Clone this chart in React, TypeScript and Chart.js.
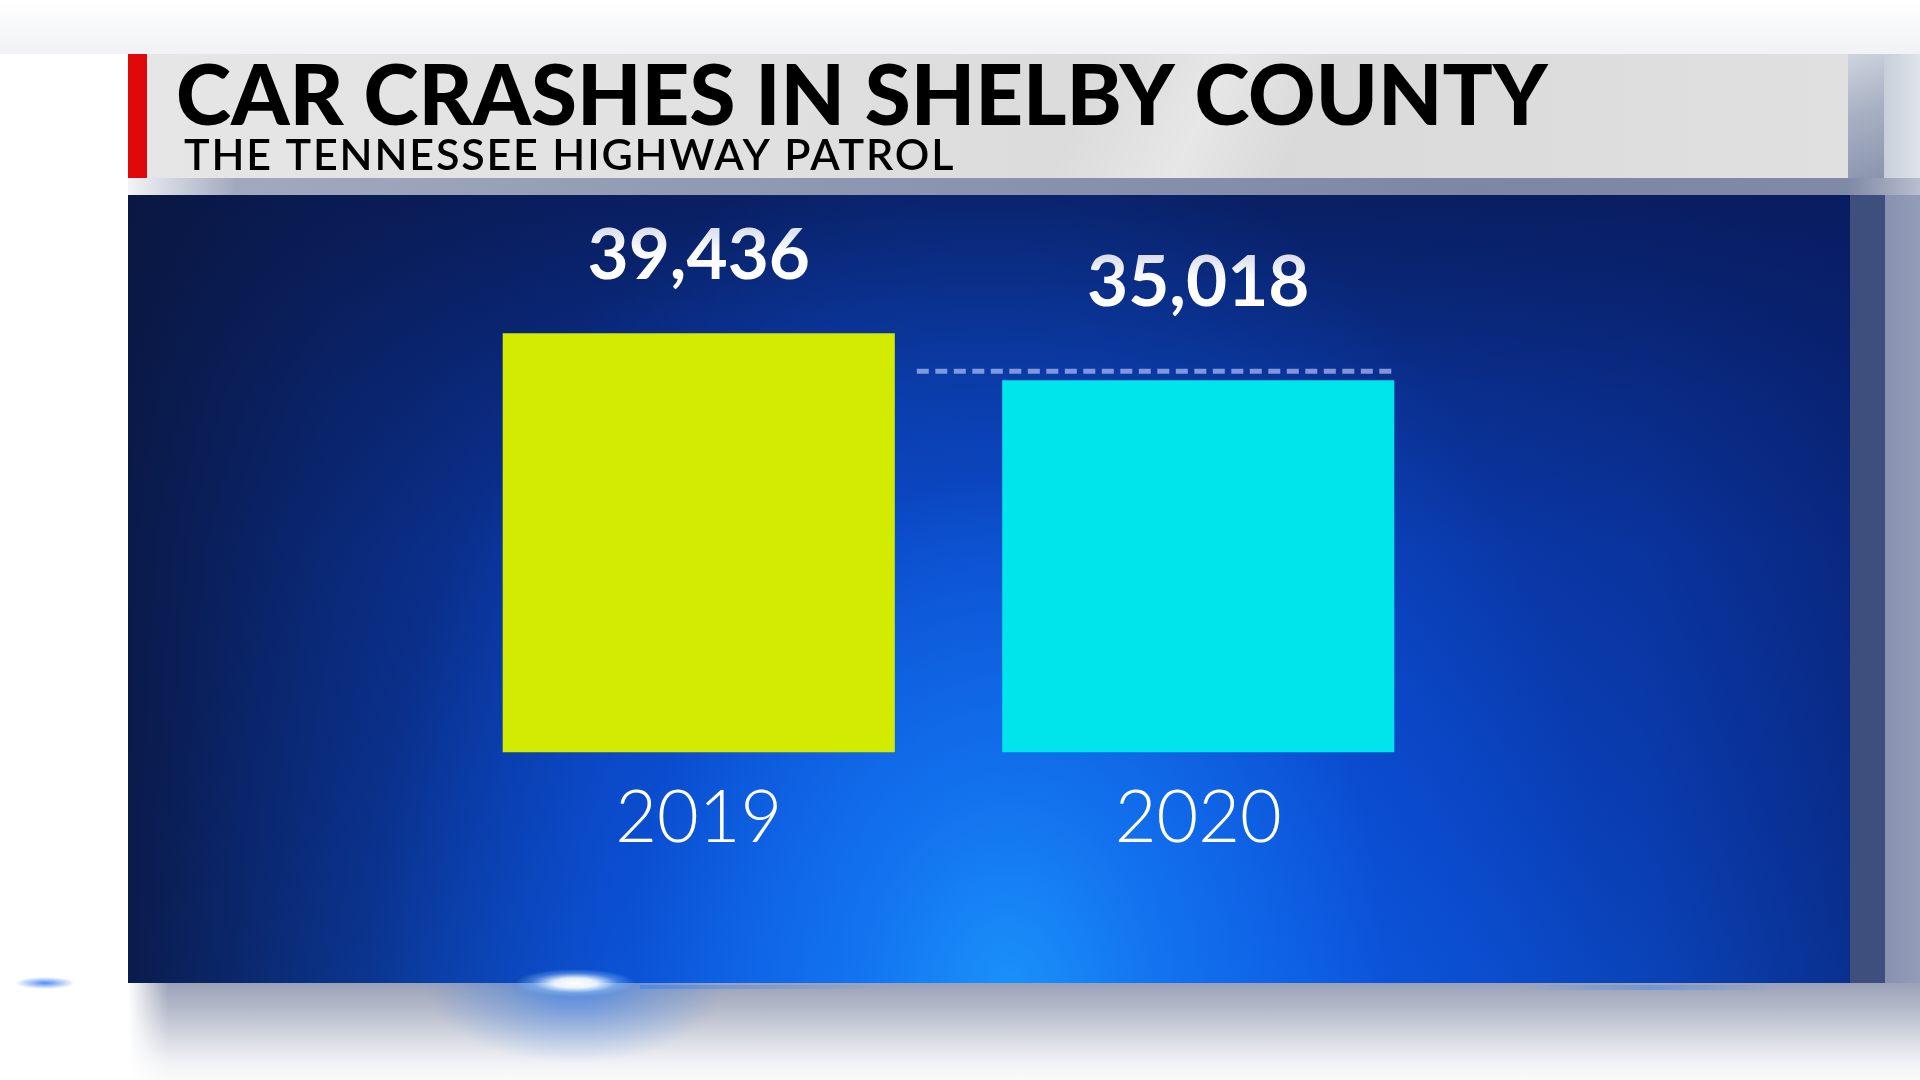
import React, { useEffect, useRef } from "react";
import { Chart, registerables } from "chart.js";

Chart.register(...registerables);

// ---- data ----
const categories = ["2019", "2020"];
const crashes = [39436, 35018];
const referenceLineValue = 35860;
const yAxisMax = 50000;
const titleText = "CAR CRASHES IN SHELBY COUNTY";
const subtitleText = "THE TENNESSEE HIGHWAY PATROL";

// ---- styles ----
const barColors = ["#d3eb00", "#00e4eb"];
const labelGaps = [54, 74];
const FONT = "Lato";

const overlayPlugin = {
  id: "overlay",
  afterDatasetsDraw(chart: any) {
    const { ctx } = chart;
    const meta = chart.getDatasetMeta(0);
    const yScale = chart.scales.y;

    // dashed reference line over the 2020 bar
    const b1 = meta.data[1];
    const b0 = meta.data[0];
    const y = yScale.getPixelForValue(referenceLineValue);
    const xStart = b0.x + b0.width / 2 + 22;
    const xEnd = b1.x + b1.width / 2 + 2;
    ctx.save();
    ctx.strokeStyle = "rgba(160,178,238,0.78)";
    ctx.lineWidth = 5;
    ctx.setLineDash([12, 6.5]);
    ctx.beginPath();
    ctx.moveTo(xStart, y);
    ctx.lineTo(xEnd, y);
    ctx.stroke();
    ctx.restore();

    // value labels
    ctx.save();
    ctx.font = `700 71px ${FONT}`;
    ctx.textAlign = "center";
    ctx.textBaseline = "alphabetic";
    meta.data.forEach((bar: any, i: number) => {
      const by = bar.y - labelGaps[i];
      const g = ctx.createLinearGradient(0, by - 52, 0, by);
      g.addColorStop(0, "#d9dde9");
      g.addColorStop(0.5, "#ffffff");
      g.addColorStop(1, "#ffffff");
      ctx.fillStyle = g;
      ctx.fillText(crashes[i].toLocaleString("en-US"), bar.x, by);
    });
    ctx.restore();

    // header text
    ctx.save();
    ctx.fillStyle = "#000000";
    ctx.textAlign = "left";
    ctx.textBaseline = "alphabetic";
    ctx.font = `900 83.4px ${FONT}`;
    ctx.fillText(titleText, 176, 125);
    ctx.font = `600 43px ${FONT}`;
    (ctx as any).letterSpacing = "1.85px";
    ctx.fillText(subtitleText, 184, 170);
    ctx.restore();
  },
};

function Background() {
  const abs = (s: React.CSSProperties): React.CSSProperties => ({ position: "absolute", ...s });
  return (
    <>
      {/* top haze */}
      <div style={abs({ left: 0, top: 0, width: 1920, height: 54, background: "linear-gradient(to bottom, #ffffff, #f1f2f5)" })} />
      {/* banner */}
      <div
        style={abs({
          left: 128,
          top: 54,
          width: 1720,
          height: 124,
          background:
            "linear-gradient(115deg, rgba(255,255,255,0) 55%, rgba(255,255,255,0.35) 62%, rgba(255,255,255,0) 68%), linear-gradient(to right, #e6e6e6 0%, #e2e2e2 30%, #d9d9d9 65%, #e0e0e0 100%)",
        })}
      />
      <div style={abs({ left: 128, top: 54, width: 19, height: 124, background: "#e1080c" })} />
      {/* right of banner */}
      <div style={abs({ left: 1848, top: 54, width: 36, height: 124, background: "linear-gradient(160deg, #cfd5de 0%, #a9b2c4 45%, #8a94ae 100%)" })} />
      <div style={abs({ left: 1884, top: 54, width: 36, height: 124, background: "linear-gradient(to right, #c8cfd9, #dfe3ea)" })} />
      {/* band under banner */}
      <div style={abs({ left: 128, top: 178, width: 1792, height: 17, background: "linear-gradient(to right, #f2f3f6 0%, #a2a9be 6%, #939bb4 30%, #7d87a4 75%, #8089a6 96%, #b8bfce 100%)" })} />
      {/* right strips */}
      <div style={abs({ left: 1850, top: 195, width: 35, height: 788, background: "#3e4e7d" })} />
      <div style={abs({ left: 1885, top: 195, width: 35, height: 788, background: "linear-gradient(to right, #8791b0, #939cb8)" })} />
      {/* panel */}
      <div
        style={abs({
          left: 128,
          top: 195,
          width: 1722,
          height: 788,
          background: [
            "radial-gradient(ellipse 380px 520px at 880px 800px, rgba(28,150,252,0.9) 0%, rgba(22,130,248,0.6) 40%, rgba(16,110,240,0) 100%)",
            "radial-gradient(ellipse 620px 900px at 860px 820px, rgba(14,100,235,0.85) 0%, rgba(12,90,228,0.5) 50%, rgba(12,80,220,0) 100%)",
            "linear-gradient(to right, rgba(10,22,62,0.9) 0%, rgba(10,24,70,0.55) 12%, rgba(10,24,70,0.1) 28%, rgba(10,24,70,0) 40%, rgba(10,24,70,0) 70%, rgba(8,26,95,0.25) 88%, rgba(8,26,95,0.6) 100%)",
            "linear-gradient(to bottom, rgba(8,20,70,0.55) 0%, rgba(8,20,70,0.15) 25%, rgba(8,20,70,0) 45%)",
            "linear-gradient(to bottom, #0a2c86 0%, #0a3cb2 45%, #0a48cc 80%, #0b52d8 100%)",
          ].join(","),
        })}
      />
      {/* shadow below panel */}
      <div
        style={abs({
          left: 128,
          top: 983,
          width: 1792,
          height: 97,
          background: "linear-gradient(to bottom, #9ba2b8 0%, #b8bdcc 30%, #dadde5 60%, #f3f4f7 85%, #fafafb 100%)",
          WebkitMaskImage: "linear-gradient(to right, transparent 0, black 40px, black 100%)",
          maskImage: "linear-gradient(to right, transparent 0, black 40px, black 100%)",
        })}
      />
      {/* blue glow below flare */}
      <div style={abs({ left: 380, top: 983, width: 400, height: 97, background: "radial-gradient(ellipse 150px 80px at 195px 0px, rgba(40,120,240,0.7) 0%, rgba(40,120,240,0.3) 50%, rgba(40,120,240,0) 100%)" })} />
      <div style={abs({ left: 640, top: 985, width: 260, height: 4, background: "linear-gradient(to right, rgba(60,130,240,0.6), rgba(60,130,240,0))" })} />
      <div style={abs({ left: 1520, top: 985, width: 260, height: 5, background: "linear-gradient(to right, rgba(60,130,240,0), rgba(60,130,240,0.45), rgba(60,130,240,0))" })} />
      {/* flare */}
      <div style={abs({ left: 480, top: 960, width: 200, height: 46, background: "radial-gradient(ellipse 60px 14px at 95px 23px, #ffffff 0%, rgba(255,255,255,0.9) 35%, rgba(150,200,255,0.4) 70%, rgba(150,200,255,0) 100%)" })} />
      <div style={abs({ left: 0, top: 975, width: 110, height: 16, background: "radial-gradient(ellipse 30px 6px at 45px 8px, rgba(60,130,240,0.9), rgba(60,130,240,0))" })} />
    </>
  );
}

export default function App() {
  const canvasRef = useRef<HTMLCanvasElement | null>(null);

  useEffect(() => {
    document.body.style.margin = "0";
    document.body.style.overflow = "hidden";
    const canvas = canvasRef.current;
    if (!canvas) return;
    const chart = new Chart(canvas, {
      type: "bar",
      data: {
        labels: categories,
        datasets: [
          {
            data: crashes,
            backgroundColor: barColors,
            borderWidth: 0,
            barPercentage: 0.785,
            categoryPercentage: 1,
          },
        ],
      },
      options: {
        responsive: false,
        animation: false,
        devicePixelRatio: 1,
        layout: { padding: { left: 449, right: 472, top: 221, bottom: 195 } },
        plugins: { legend: { display: false }, tooltip: { enabled: false }, title: { display: false } },
        scales: {
          x: {
            grid: { display: false, drawTicks: false },
            border: { display: false },
            ticks: { color: "#ffffff", padding: 23, font: { family: FONT, size: 72, weight: "300" } },
          },
          y: { display: false, min: 0, max: yAxisMax },
        },
      },
      plugins: [overlayPlugin],
    });
    return () => chart.destroy();
  }, []);

  return (
    <div style={{ position: "absolute", left: 0, top: 0, width: 1920, height: 1080, overflow: "hidden", background: "#ffffff", fontFamily: FONT }}>
      <Background />
      <canvas ref={canvasRef} width={1920} height={1080} style={{ position: "absolute", left: 0, top: 0, width: 1920, height: 1080 }} />
    </div>
  );
}
